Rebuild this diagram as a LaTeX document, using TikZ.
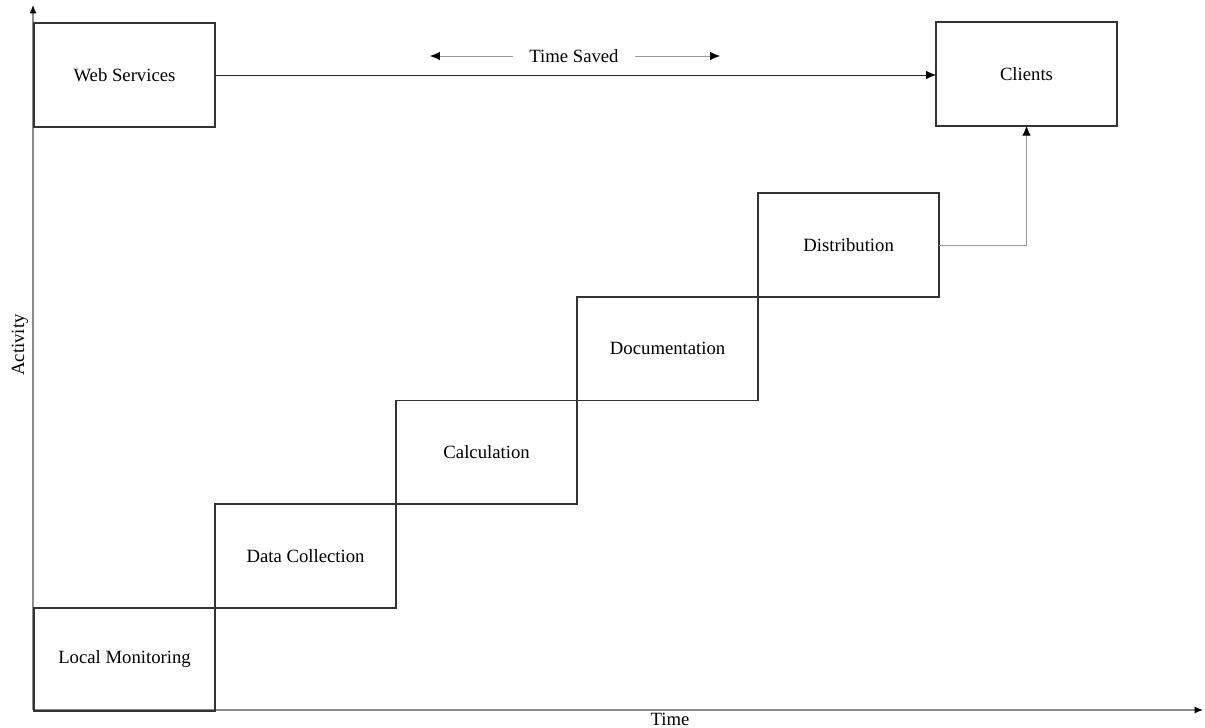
\documentclass[tikz,border=0pt]{standalone}
\usepackage{fontspec}
\setmainfont{Liberation Serif}
\usetikzlibrary{positioning,arrows.meta}

\tikzset{
  stage/.style={draw=black!80,line width=1.3pt,minimum width=4.525cm,minimum height=2.59cm,
    inner sep=0pt,outer sep=0pt,font=\fontsize{13.3}{15}\selectfont},
  axis/.style={draw=black!45,line width=0.8pt,-{Latex[length=6pt,width=5pt,black]}},
  link/.style={line width=0.6pt,-{Latex[length=7pt,width=6pt,black]}},
}

\begin{document}
\begin{tikzpicture}[x=0.025cm,y=0.025cm]
        \useasboundingbox (0,0) rectangle (1205,728);

        % Axes
        \coordinate (origin) at (33,18);
        \coordinate (xend) at (1203,18);
        \coordinate (yend) at (33,723);
        \draw[axis] (origin) -- (xend);
        \draw[axis] (origin) -- (yend);
        \node[font=\fontsize{13.3}{15}\selectfont] (time) at (670,9) {Time};
        \node[rotate=90,font=\fontsize{13.3}{15}\selectfont] (activity) at (20,383) {Activity};

        % Staircase
        \node[stage] (local) at (124.5,68.5) {Local Monitoring};
        \node[stage,above right=0pt and 0pt of local] (datacol) {Data Collection};
        \node[stage,above right=0pt and 0pt of datacol] (calc) {Calculation};
        \node[stage,above right=0pt and 0pt of calc] (doc) {Documentation};
        \node[stage,above right=0pt and 0pt of doc] (dist) {Distribution};

        % Top row
        \node[stage] (web) at (124.5,653) {Web Services};
        \node[stage] (clients) at (1026.5,654) {Clients};

        % Connectors
        \draw[link,black!85] (web.east) -- (web.east -| clients.west);
        \draw[link,black!40] (dist.east) -| (clients.south);

        % Time saved
        \node[font=\fontsize{13.3}{15}\selectfont] (saved) at (574,672) {Time Saved};
        \coordinate (savedleft) at (430,672);
        \coordinate (savedright) at (720,672);
        \draw[link,black!40] ([xshift=-8pt]saved.west) -- (savedleft);
        \draw[link,black!40] ([xshift=8pt]saved.east) -- (savedright);

      \end{tikzpicture}
\end{document}
